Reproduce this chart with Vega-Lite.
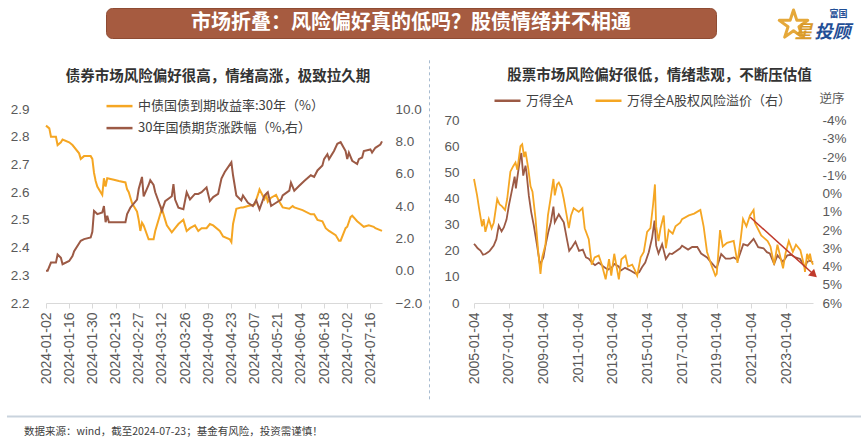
{
  "$schema": "https://vega.github.io/schema/vega-lite/v6.json",
  "background": "#ffffff",
  "padding": {"left": 5, "right": 5, "top": 7, "bottom": 5},
  "config": {
    "view": {"stroke": null},
    "font": "Liberation Sans",
    "axis": {"grid": false, "domain": false, "ticks": false, "labelFont": "Liberation Sans", "labelColor": "#595959", "labelFontSize": 13.5, "labelOverlap": false},
    "legend": {"symbolType": "stroke", "symbolStrokeWidth": 2.5, "symbolSize": 676, "labelFont": "Noto Sans CJK SC", "labelFontSize": 13, "labelColor": "#404040", "labelLimit": 330, "padding": 0, "labelOffset": 4},
    "title": {"font": "Noto Sans CJK SC", "fontWeight": "bold", "color": "#333333", "fontSize": 14.5, "anchor": "middle"}
  },
  "datasets": {
    "yield": [
      {"date": "2024-01-02", "v": 2.84}, {"date": "2024-01-04", "v": 2.83}, {"date": "2024-01-05", "v": 2.80}, {"date": "2024-01-08", "v": 2.80},
      {"date": "2024-01-09", "v": 2.77}, {"date": "2024-01-11", "v": 2.78}, {"date": "2024-01-12", "v": 2.79}, {"date": "2024-01-16", "v": 2.78},
      {"date": "2024-01-18", "v": 2.77}, {"date": "2024-01-22", "v": 2.74}, {"date": "2024-01-23", "v": 2.72}, {"date": "2024-01-25", "v": 2.73},
      {"date": "2024-01-29", "v": 2.73}, {"date": "2024-01-30", "v": 2.72}, {"date": "2024-01-31", "v": 2.67}, {"date": "2024-02-01", "v": 2.64},
      {"date": "2024-02-02", "v": 2.62}, {"date": "2024-02-05", "v": 2.59}, {"date": "2024-02-06", "v": 2.65}, {"date": "2024-02-07", "v": 2.62},
      {"date": "2024-02-08", "v": 2.65}, {"date": "2024-02-12", "v": 2.645}, {"date": "2024-02-15", "v": 2.64}, {"date": "2024-02-19", "v": 2.635},
      {"date": "2024-02-20", "v": 2.61}, {"date": "2024-02-21", "v": 2.60}, {"date": "2024-02-23", "v": 2.56}, {"date": "2024-02-26", "v": 2.53},
      {"date": "2024-02-27", "v": 2.50}, {"date": "2024-02-28", "v": 2.46}, {"date": "2024-02-29", "v": 2.49}, {"date": "2024-03-01", "v": 2.48},
      {"date": "2024-03-04", "v": 2.43}, {"date": "2024-03-07", "v": 2.43}, {"date": "2024-03-08", "v": 2.46}, {"date": "2024-03-11", "v": 2.52},
      {"date": "2024-03-12", "v": 2.54}, {"date": "2024-03-14", "v": 2.50}, {"date": "2024-03-15", "v": 2.48}, {"date": "2024-03-18", "v": 2.455},
      {"date": "2024-03-20", "v": 2.47}, {"date": "2024-03-22", "v": 2.485}, {"date": "2024-03-25", "v": 2.50}, {"date": "2024-03-27", "v": 2.46},
      {"date": "2024-03-29", "v": 2.47}, {"date": "2024-04-01", "v": 2.48}, {"date": "2024-04-03", "v": 2.46}, {"date": "2024-04-05", "v": 2.47},
      {"date": "2024-04-08", "v": 2.47}, {"date": "2024-04-10", "v": 2.485}, {"date": "2024-04-12", "v": 2.48}, {"date": "2024-04-16", "v": 2.46},
      {"date": "2024-04-18", "v": 2.44}, {"date": "2024-04-22", "v": 2.43}, {"date": "2024-04-23", "v": 2.42}, {"date": "2024-04-24", "v": 2.485},
      {"date": "2024-04-26", "v": 2.54}, {"date": "2024-04-29", "v": 2.545}, {"date": "2024-04-30", "v": 2.545}, {"date": "2024-05-03", "v": 2.55},
      {"date": "2024-05-07", "v": 2.555}, {"date": "2024-05-09", "v": 2.59}, {"date": "2024-05-10", "v": 2.61}, {"date": "2024-05-13", "v": 2.575},
      {"date": "2024-05-14", "v": 2.59}, {"date": "2024-05-15", "v": 2.565}, {"date": "2024-05-17", "v": 2.58}, {"date": "2024-05-20", "v": 2.59},
      {"date": "2024-05-22", "v": 2.565}, {"date": "2024-05-24", "v": 2.545}, {"date": "2024-05-28", "v": 2.54}, {"date": "2024-05-30", "v": 2.55},
      {"date": "2024-05-31", "v": 2.545}, {"date": "2024-06-05", "v": 2.535}, {"date": "2024-06-10", "v": 2.52}, {"date": "2024-06-12", "v": 2.52},
      {"date": "2024-06-14", "v": 2.50}, {"date": "2024-06-17", "v": 2.495}, {"date": "2024-06-19", "v": 2.47}, {"date": "2024-06-21", "v": 2.46},
      {"date": "2024-06-25", "v": 2.445}, {"date": "2024-06-27", "v": 2.425}, {"date": "2024-06-28", "v": 2.425}, {"date": "2024-07-01", "v": 2.47},
      {"date": "2024-07-02", "v": 2.475}, {"date": "2024-07-04", "v": 2.51}, {"date": "2024-07-05", "v": 2.515}, {"date": "2024-07-08", "v": 2.495},
      {"date": "2024-07-10", "v": 2.485}, {"date": "2024-07-12", "v": 2.475}, {"date": "2024-07-15", "v": 2.48}, {"date": "2024-07-18", "v": 2.475},
      {"date": "2024-07-19", "v": 2.47}, {"date": "2024-07-23", "v": 2.46}
    ],
    "futures": [
      {"date": "2024-01-02", "v": 0.0}, {"date": "2024-01-03", "v": 0.0}, {"date": "2024-01-05", "v": 0.5}, {"date": "2024-01-08", "v": 0.5},
      {"date": "2024-01-09", "v": 1.0}, {"date": "2024-01-11", "v": 0.8}, {"date": "2024-01-12", "v": 0.4}, {"date": "2024-01-16", "v": 0.6},
      {"date": "2024-01-18", "v": 0.9}, {"date": "2024-01-19", "v": 1.2}, {"date": "2024-01-23", "v": 1.85}, {"date": "2024-01-25", "v": 1.95},
      {"date": "2024-01-29", "v": 2.05}, {"date": "2024-01-30", "v": 2.4}, {"date": "2024-01-31", "v": 3.7}, {"date": "2024-02-02", "v": 3.5},
      {"date": "2024-02-05", "v": 3.6}, {"date": "2024-02-06", "v": 4.0}, {"date": "2024-02-07", "v": 3.0}, {"date": "2024-02-08", "v": 3.4},
      {"date": "2024-02-09", "v": 3.0}, {"date": "2024-02-14", "v": 3.0}, {"date": "2024-02-19", "v": 3.0}, {"date": "2024-02-20", "v": 3.5},
      {"date": "2024-02-22", "v": 3.9}, {"date": "2024-02-26", "v": 4.4}, {"date": "2024-02-27", "v": 5.05}, {"date": "2024-02-29", "v": 5.8},
      {"date": "2024-03-01", "v": 4.6}, {"date": "2024-03-04", "v": 5.3}, {"date": "2024-03-05", "v": 5.6}, {"date": "2024-03-07", "v": 5.3},
      {"date": "2024-03-08", "v": 4.85}, {"date": "2024-03-11", "v": 4.0}, {"date": "2024-03-12", "v": 3.7}, {"date": "2024-03-14", "v": 4.3},
      {"date": "2024-03-18", "v": 4.6}, {"date": "2024-03-19", "v": 5.35}, {"date": "2024-03-20", "v": 4.4}, {"date": "2024-03-22", "v": 3.9},
      {"date": "2024-03-25", "v": 3.8}, {"date": "2024-03-27", "v": 4.85}, {"date": "2024-03-29", "v": 4.4}, {"date": "2024-04-01", "v": 4.75},
      {"date": "2024-04-03", "v": 4.75}, {"date": "2024-04-05", "v": 4.85}, {"date": "2024-04-08", "v": 5.15}, {"date": "2024-04-10", "v": 4.3},
      {"date": "2024-04-12", "v": 4.55}, {"date": "2024-04-15", "v": 4.75}, {"date": "2024-04-17", "v": 5.7}, {"date": "2024-04-19", "v": 6.1},
      {"date": "2024-04-23", "v": 6.7}, {"date": "2024-04-24", "v": 5.9}, {"date": "2024-04-26", "v": 4.65}, {"date": "2024-04-29", "v": 4.35},
      {"date": "2024-04-30", "v": 4.65}, {"date": "2024-05-03", "v": 4.2}, {"date": "2024-05-06", "v": 4.0}, {"date": "2024-05-08", "v": 4.35},
      {"date": "2024-05-10", "v": 3.8}, {"date": "2024-05-13", "v": 4.65}, {"date": "2024-05-15", "v": 4.85}, {"date": "2024-05-17", "v": 4.0},
      {"date": "2024-05-20", "v": 4.2}, {"date": "2024-05-23", "v": 4.4}, {"date": "2024-05-24", "v": 4.65}, {"date": "2024-05-28", "v": 4.95},
      {"date": "2024-05-29", "v": 5.45}, {"date": "2024-05-31", "v": 4.95}, {"date": "2024-06-03", "v": 5.25}, {"date": "2024-06-06", "v": 5.55},
      {"date": "2024-06-10", "v": 5.9}, {"date": "2024-06-12", "v": 5.8}, {"date": "2024-06-14", "v": 6.2}, {"date": "2024-06-17", "v": 6.5},
      {"date": "2024-06-18", "v": 6.9}, {"date": "2024-06-20", "v": 7.2}, {"date": "2024-06-21", "v": 6.9}, {"date": "2024-06-24", "v": 7.4},
      {"date": "2024-06-26", "v": 7.85}, {"date": "2024-06-28", "v": 7.95}, {"date": "2024-07-01", "v": 7.4}, {"date": "2024-07-02", "v": 6.9},
      {"date": "2024-07-03", "v": 7.3}, {"date": "2024-07-05", "v": 6.8}, {"date": "2024-07-08", "v": 6.6}, {"date": "2024-07-09", "v": 6.9},
      {"date": "2024-07-11", "v": 7.0}, {"date": "2024-07-12", "v": 7.4}, {"date": "2024-07-16", "v": 7.5}, {"date": "2024-07-17", "v": 7.3},
      {"date": "2024-07-19", "v": 7.6}, {"date": "2024-07-22", "v": 7.8}, {"date": "2024-07-23", "v": 8.0}
    ],
    "pe": [
      {"date": "2005-01-04", "v": 22.7}, {"date": "2005-02-07", "v": 22.0}, {"date": "2005-03-22", "v": 21.0}, {"date": "2005-05-20", "v": 20.1},
      {"date": "2005-07-12", "v": 18.5}, {"date": "2005-09-01", "v": 18.8}, {"date": "2005-10-25", "v": 19.5}, {"date": "2005-12-01", "v": 20.0},
      {"date": "2006-02-24", "v": 22.0}, {"date": "2006-04-20", "v": 24.5}, {"date": "2006-06-09", "v": 29.7}, {"date": "2006-08-08", "v": 27.5},
      {"date": "2006-09-25", "v": 29.0}, {"date": "2006-11-20", "v": 32.0}, {"date": "2007-01-08", "v": 37.4}, {"date": "2007-03-19", "v": 43.7},
      {"date": "2007-05-10", "v": 48.5}, {"date": "2007-06-05", "v": 44.0}, {"date": "2007-07-02", "v": 47.6}, {"date": "2007-09-10", "v": 56.6},
      {"date": "2007-09-28", "v": 57.5}, {"date": "2007-11-07", "v": 48.9}, {"date": "2007-12-25", "v": 52.7}, {"date": "2008-01-15", "v": 50.0},
      {"date": "2008-03-04", "v": 41.2}, {"date": "2008-04-22", "v": 35.0}, {"date": "2008-06-17", "v": 29.7}, {"date": "2008-08-25", "v": 22.0},
      {"date": "2008-10-28", "v": 14.3}, {"date": "2008-11-17", "v": 15.5}, {"date": "2009-01-05", "v": 17.5}, {"date": "2009-02-17", "v": 22.0},
      {"date": "2009-04-15", "v": 27.0}, {"date": "2009-06-10", "v": 31.0}, {"date": "2009-08-04", "v": 37.0}, {"date": "2009-09-01", "v": 31.0},
      {"date": "2009-11-25", "v": 34.0}, {"date": "2010-01-15", "v": 32.5}, {"date": "2010-03-10", "v": 31.0}, {"date": "2010-05-20", "v": 24.0},
      {"date": "2010-07-02", "v": 20.0}, {"date": "2010-09-01", "v": 21.5}, {"date": "2010-11-10", "v": 23.5}, {"date": "2011-01-25", "v": 20.0},
      {"date": "2011-04-15", "v": 20.5}, {"date": "2011-06-20", "v": 17.5}, {"date": "2011-08-18", "v": 17.0}, {"date": "2011-10-20", "v": 15.6},
      {"date": "2011-12-28", "v": 14.5}, {"date": "2012-03-15", "v": 15.5}, {"date": "2012-06-20", "v": 14.0}, {"date": "2012-09-25", "v": 12.8},
      {"date": "2012-12-20", "v": 13.7}, {"date": "2013-02-05", "v": 15.0}, {"date": "2013-05-10", "v": 14.0}, {"date": "2013-06-25", "v": 12.5},
      {"date": "2013-09-20", "v": 13.5}, {"date": "2013-12-05", "v": 12.8}, {"date": "2014-01-20", "v": 12.4}, {"date": "2014-04-28", "v": 11.3},
      {"date": "2014-07-15", "v": 11.8}, {"date": "2014-09-12", "v": 13.7}, {"date": "2014-11-20", "v": 15.5}, {"date": "2015-02-02", "v": 19.5},
      {"date": "2015-04-13", "v": 25.0}, {"date": "2015-06-03", "v": 31.6}, {"date": "2015-07-08", "v": 22.0}, {"date": "2015-08-26", "v": 19.0},
      {"date": "2015-11-10", "v": 22.6}, {"date": "2016-01-28", "v": 16.9}, {"date": "2016-04-15", "v": 19.0}, {"date": "2016-06-06", "v": 18.8},
      {"date": "2016-11-25", "v": 21.0}, {"date": "2017-01-03", "v": 22.0}, {"date": "2017-05-10", "v": 20.5}, {"date": "2017-08-04", "v": 21.5},
      {"date": "2017-11-20", "v": 21.5}, {"date": "2018-02-09", "v": 19.0}, {"date": "2018-06-13", "v": 17.5}, {"date": "2018-08-20", "v": 16.0},
      {"date": "2018-12-07", "v": 13.7}, {"date": "2019-01-03", "v": 13.5}, {"date": "2019-04-08", "v": 18.8}, {"date": "2019-07-10", "v": 17.0},
      {"date": "2019-10-15", "v": 17.0}, {"date": "2019-12-27", "v": 17.5}, {"date": "2020-03-23", "v": 16.5}, {"date": "2020-07-16", "v": 22.6},
      {"date": "2020-10-15", "v": 22.0}, {"date": "2021-02-18", "v": 24.6}, {"date": "2021-05-26", "v": 21.4}, {"date": "2021-09-15", "v": 21.0},
      {"date": "2021-11-25", "v": 19.5}, {"date": "2022-01-25", "v": 19.0}, {"date": "2022-04-26", "v": 15.0}, {"date": "2022-07-05", "v": 18.3},
      {"date": "2022-10-31", "v": 15.8}, {"date": "2023-01-30", "v": 18.3}, {"date": "2023-04-20", "v": 18.5}, {"date": "2023-07-20", "v": 17.5},
      {"date": "2023-10-26", "v": 16.9}, {"date": "2024-02-05", "v": 13.7}, {"date": "2024-03-20", "v": 15.8}, {"date": "2024-05-20", "v": 16.3},
      {"date": "2024-07-23", "v": 15.5}
    ],
    "erp": [
      {"date": "2005-01-04", "v": -0.8}, {"date": "2005-03-10", "v": 0.1}, {"date": "2005-04-20", "v": 0.8}, {"date": "2005-06-23", "v": 1.8},
      {"date": "2005-07-25", "v": 1.4}, {"date": "2005-09-01", "v": 2.1}, {"date": "2005-11-11", "v": 1.4}, {"date": "2006-01-10", "v": 1.9},
      {"date": "2006-02-24", "v": 1.6}, {"date": "2006-05-08", "v": 0.3}, {"date": "2006-06-28", "v": 0.6}, {"date": "2006-08-18", "v": 0.7},
      {"date": "2006-10-20", "v": 0.9}, {"date": "2006-12-04", "v": 0.3}, {"date": "2007-02-09", "v": -1.2}, {"date": "2007-04-10", "v": -1.5},
      {"date": "2007-05-28", "v": -1.7}, {"date": "2007-07-05", "v": -1.3}, {"date": "2007-09-10", "v": -2.6}, {"date": "2007-10-16", "v": -2.7},
      {"date": "2007-11-27", "v": -2.0}, {"date": "2007-12-25", "v": -2.3}, {"date": "2008-02-20", "v": -1.4}, {"date": "2008-04-09", "v": -0.4},
      {"date": "2008-05-20", "v": -0.1}, {"date": "2008-07-24", "v": 1.4}, {"date": "2008-09-18", "v": 3.2}, {"date": "2008-11-04", "v": 4.4},
      {"date": "2008-12-10", "v": 3.5}, {"date": "2009-02-17", "v": 2.8}, {"date": "2009-04-10", "v": 1.2}, {"date": "2009-06-03", "v": 0.3},
      {"date": "2009-08-04", "v": -0.8}, {"date": "2009-09-01", "v": 0.1}, {"date": "2009-10-20", "v": -0.5}, {"date": "2009-11-25", "v": -0.6},
      {"date": "2010-01-20", "v": -0.3}, {"date": "2010-03-10", "v": 0.3}, {"date": "2010-05-10", "v": 1.2}, {"date": "2010-06-25", "v": 1.9},
      {"date": "2010-08-10", "v": 1.2}, {"date": "2010-10-05", "v": 0.8}, {"date": "2010-11-25", "v": 0.9}, {"date": "2011-01-19", "v": 1.0},
      {"date": "2011-04-08", "v": 0.8}, {"date": "2011-05-25", "v": 1.9}, {"date": "2011-08-18", "v": 2.5}, {"date": "2011-10-20", "v": 3.9},
      {"date": "2011-12-20", "v": 3.5}, {"date": "2012-03-15", "v": 3.4}, {"date": "2012-05-20", "v": 3.9}, {"date": "2012-08-08", "v": 4.7},
      {"date": "2012-10-18", "v": 3.6}, {"date": "2012-12-04", "v": 4.5}, {"date": "2013-02-05", "v": 3.3}, {"date": "2013-05-13", "v": 4.7},
      {"date": "2013-07-05", "v": 3.6}, {"date": "2013-09-30", "v": 3.4}, {"date": "2013-11-20", "v": 4.0}, {"date": "2014-02-18", "v": 3.9},
      {"date": "2014-04-15", "v": 4.2}, {"date": "2014-06-03", "v": 4.5}, {"date": "2014-08-15", "v": 3.5}, {"date": "2014-10-20", "v": 3.2},
      {"date": "2014-12-29", "v": 2.1}, {"date": "2015-03-09", "v": 1.9}, {"date": "2015-05-04", "v": 0.6}, {"date": "2015-06-12", "v": -0.5},
      {"date": "2015-07-08", "v": 1.8}, {"date": "2015-08-26", "v": 2.6}, {"date": "2015-10-08", "v": 1.9}, {"date": "2015-12-14", "v": 1.2},
      {"date": "2016-01-28", "v": 3.0}, {"date": "2016-03-28", "v": 2.0}, {"date": "2016-06-20", "v": 2.2}, {"date": "2016-08-18", "v": 1.8},
      {"date": "2016-11-25", "v": 1.6}, {"date": "2017-01-03", "v": 1.4}, {"date": "2017-05-26", "v": 1.2}, {"date": "2017-09-15", "v": 1.1},
      {"date": "2017-12-20", "v": 0.95}, {"date": "2018-01-24", "v": 0.9}, {"date": "2018-04-02", "v": 1.8}, {"date": "2018-06-13", "v": 3.2},
      {"date": "2018-09-10", "v": 3.9}, {"date": "2018-12-06", "v": 4.5}, {"date": "2019-01-04", "v": 4.4}, {"date": "2019-03-14", "v": 2.0},
      {"date": "2019-05-10", "v": 2.9}, {"date": "2019-08-08", "v": 2.7}, {"date": "2019-12-27", "v": 2.6}, {"date": "2020-03-16", "v": 3.8},
      {"date": "2020-05-26", "v": 2.4}, {"date": "2020-07-10", "v": 1.4}, {"date": "2020-09-20", "v": 1.8}, {"date": "2020-12-04", "v": 1.2},
      {"date": "2021-02-18", "v": 0.9}, {"date": "2021-03-16", "v": 1.6}, {"date": "2021-07-28", "v": 2.3}, {"date": "2021-09-13", "v": 2.4},
      {"date": "2021-12-10", "v": 2.6}, {"date": "2022-02-08", "v": 2.9}, {"date": "2022-04-26", "v": 3.9}, {"date": "2022-07-05", "v": 2.8},
      {"date": "2022-10-31", "v": 4.1}, {"date": "2022-12-20", "v": 3.3}, {"date": "2023-03-01", "v": 2.6}, {"date": "2023-05-25", "v": 3.2},
      {"date": "2023-07-31", "v": 2.8}, {"date": "2023-10-31", "v": 3.1}, {"date": "2024-01-22", "v": 4.0}, {"date": "2024-02-05", "v": 4.3},
      {"date": "2024-03-20", "v": 3.3}, {"date": "2024-04-22", "v": 3.6}, {"date": "2024-05-20", "v": 3.3}, {"date": "2024-06-20", "v": 3.7},
      {"date": "2024-07-23", "v": 3.9}
    ],
    "arrow": [{"d1": "2020-12-10", "e1": 1.3, "d2": "2024-07-23", "e2": 4.4}],
    "arrowhead": [{"d": "2024-07-23", "e": 4.4}]
  },
  "spacing": 13,
  "vconcat": [
    {
      "spacing": 0,
      "hconcat": [
        {"width": 59, "height": 30, "data": {"values": []}, "mark": "point"},
        {
          "width": 610, "height": 30,
          "view": {"fill": "#A65B40", "stroke": "#8E4B33", "strokeWidth": 1, "cornerRadius": 6},
          "data": {"values": [{"t": "市场折叠：风险偏好真的低吗？股债情绪并不相通"}]},
          "mark": {"type": "text", "font": "Noto Sans CJK SC", "fontWeight": "bold", "fontSize": 20, "color": "#ffffff", "baseline": "middle", "align": "center"},
          "encoding": {"text": {"field": "t"}}
        },
        {"width": 60, "height": 30, "data": {"values": []}, "mark": "point"},
        {
          "width": 77, "height": 38,
          "layer": [
            {"data": {"values": [{"t": "star"}]}, "mark": {"type": "point", "shape": "M0,-1L0.2245,-0.309L0.951,-0.309L0.363,0.118L0.588,0.809L0,0.382L-0.588,0.809L-0.363,0.118L-0.951,-0.309L-0.2245,-0.309Z", "size": 900, "filled": false, "stroke": "#E5A83A", "strokeWidth": 3, "strokeJoin": "round", "opacity": 1, "xOffset": -23, "yOffset": -2}, "encoding": {}},
            {"data": {"values": [{"t": "富国"}]}, "mark": {"type": "text", "font": "Noto Sans CJK SC", "fontWeight": "bold", "fontSize": 9, "color": "#1F4E96", "dx": 22, "dy": -13, "baseline": "middle", "align": "center"}, "encoding": {"text": {"field": "t"}}},
            {"data": {"values": [{"t": "星"}]}, "mark": {"type": "text", "font": "Noto Sans CJK SC", "fontWeight": "bold", "fontStyle": "italic", "fontSize": 18, "color": "#D99A2B", "dx": -13, "dy": 6, "baseline": "middle", "align": "center"}, "encoding": {"text": {"field": "t"}}},
            {"data": {"values": [{"t": "投顾"}]}, "mark": {"type": "text", "font": "Noto Sans CJK SC", "fontWeight": "bold", "fontStyle": "italic", "fontSize": 18, "color": "#1F4E96", "dx": 16, "dy": 6, "baseline": "middle", "align": "center"}, "encoding": {"text": {"field": "t"}}}
          ]
        }
      ]
    },
    {
      "spacing": 7,
      "resolve": {"scale": {"color": "independent"}, "legend": {"color": "independent"}},
      "hconcat": [
        {
          "width": 336, "height": 194,
          "title": {"text": "债券市场风险偏好很高，情绪高涨，极致拉久期", "frame": "group", "offset": 7.5, "dx": 4},
          "layer": [
            {
              "data": {"name": "yield"},
              "mark": {"type": "line", "strokeWidth": 2},
              "encoding": {
                "x": {"field": "date", "type": "temporal", "title": null,
                  "scale": {"type": "utc", "domain": [{"year": 2024, "month": 1, "date": 2, "utc": true}, {"year": 2024, "month": 7, "date": 23, "utc": true}]},
                  "axis": {"values": [
                    {"year": 2024, "month": 1, "date": 2, "utc": true}, {"year": 2024, "month": 1, "date": 16, "utc": true}, {"year": 2024, "month": 1, "date": 30, "utc": true},
                    {"year": 2024, "month": 2, "date": 13, "utc": true}, {"year": 2024, "month": 2, "date": 27, "utc": true}, {"year": 2024, "month": 3, "date": 12, "utc": true},
                    {"year": 2024, "month": 3, "date": 26, "utc": true}, {"year": 2024, "month": 4, "date": 9, "utc": true}, {"year": 2024, "month": 4, "date": 23, "utc": true},
                    {"year": 2024, "month": 5, "date": 7, "utc": true}, {"year": 2024, "month": 5, "date": 21, "utc": true}, {"year": 2024, "month": 6, "date": 4, "utc": true},
                    {"year": 2024, "month": 6, "date": 18, "utc": true}, {"year": 2024, "month": 7, "date": 2, "utc": true}, {"year": 2024, "month": 7, "date": 16, "utc": true}],
                    "format": "%Y-%m-%d", "labelAngle": -90, "labelFontSize": 14, "labelPadding": 4, "labelFlush": false, "labelOverlap": false, "labelBound": false,
                    "domain": true, "domainColor": "#D9D9D9", "ticks": true, "tickColor": "#D9D9D9", "tickSize": 5}},
                "y": {"field": "v", "type": "quantitative", "title": null,
                  "scale": {"domain": [2.2, 2.9], "nice": false, "zero": false},
                  "axis": {"orient": "left", "values": [2.2, 2.3, 2.4, 2.5, 2.6, 2.7, 2.8, 2.9], "format": ".1f", "labelPadding": 17, "minExtent": 38}},
                "color": {"datum": "中债国债到期收益率:30年（%）", "type": "nominal",
                  "scale": {"domain": ["中债国债到期收益率:30年（%）", "30年国债期货涨跌幅（%,右）"], "range": ["#F5A623", "#9C5A45"]},
                  "legend": {"orient": "none", "legendX": 59, "legendY": -17.4, "direction": "vertical", "rowPadding": -1, "title": null}}
              }
            },
            {
              "data": {"name": "futures"},
              "mark": {"type": "line", "strokeWidth": 2},
              "encoding": {
                "x": {"field": "date", "type": "temporal", "title": null,
                  "scale": {"type": "utc", "domain": [{"year": 2024, "month": 1, "date": 2, "utc": true}, {"year": 2024, "month": 7, "date": 23, "utc": true}]},
                  "axis": {"values": [
                    {"year": 2024, "month": 1, "date": 2, "utc": true}, {"year": 2024, "month": 1, "date": 16, "utc": true}, {"year": 2024, "month": 1, "date": 30, "utc": true},
                    {"year": 2024, "month": 2, "date": 13, "utc": true}, {"year": 2024, "month": 2, "date": 27, "utc": true}, {"year": 2024, "month": 3, "date": 12, "utc": true},
                    {"year": 2024, "month": 3, "date": 26, "utc": true}, {"year": 2024, "month": 4, "date": 9, "utc": true}, {"year": 2024, "month": 4, "date": 23, "utc": true},
                    {"year": 2024, "month": 5, "date": 7, "utc": true}, {"year": 2024, "month": 5, "date": 21, "utc": true}, {"year": 2024, "month": 6, "date": 4, "utc": true},
                    {"year": 2024, "month": 6, "date": 18, "utc": true}, {"year": 2024, "month": 7, "date": 2, "utc": true}, {"year": 2024, "month": 7, "date": 16, "utc": true}],
                    "format": "%Y-%m-%d", "labelAngle": -90, "labelFontSize": 14, "labelPadding": 4, "labelFlush": false, "labelOverlap": false, "labelBound": false,
                    "domain": true, "domainColor": "#D9D9D9", "ticks": true, "tickColor": "#D9D9D9", "tickSize": 5}},
                "y": {"field": "v", "type": "quantitative", "title": null,
                  "scale": {"domain": [-2, 10], "nice": false, "zero": false},
                  "axis": {"orient": "right", "values": [-2, 0, 2, 4, 6, 8, 10], "format": ".1f", "labelPadding": 13}},
                "color": {"datum": "30年国债期货涨跌幅（%,右）", "type": "nominal",
                  "scale": {"domain": ["中债国债到期收益率:30年（%）", "30年国债期货涨跌幅（%,右）"], "range": ["#F5A623", "#9C5A45"]},
                  "legend": {"orient": "none", "legendX": 59, "legendY": -17.4, "direction": "vertical", "rowPadding": -1, "title": null}}
              }
            }
          ],
          "resolve": {"scale": {"y": "independent"}}
        },
        {
          "width": 1, "height": 194,
          "data": {"values": [{}]},
          "mark": {"type": "rule", "color": "#A7BBD0", "strokeDash": [3, 3], "strokeWidth": 1},
          "encoding": {
            "y": {"datum": 1.251, "type": "quantitative", "scale": {"domain": [0, 1], "nice": false, "zero": false}, "axis": null},
            "y2": {"datum": -0.507}
          }
        },
        {
          "width": 339, "height": 194,
          "title": {"text": "股票市场风险偏好很低，情绪悲观，不断压估值", "frame": "group", "offset": 2.9, "dx": 16},
          "layer": [
            {
              "data": {"name": "pe"},
              "mark": {"type": "line", "strokeWidth": 1.8},
              "encoding": {
                "x": {"field": "date", "type": "temporal", "title": null,
                  "scale": {"type": "utc", "domain": [{"year": 2005, "month": 1, "date": 4, "utc": true}, {"year": 2024, "month": 7, "date": 23, "utc": true}]},
                  "axis": {"values": [
                    {"year": 2005, "month": 1, "date": 4, "utc": true}, {"year": 2007, "month": 1, "date": 4, "utc": true}, {"year": 2009, "month": 1, "date": 4, "utc": true},
                    {"year": 2011, "month": 1, "date": 4, "utc": true}, {"year": 2013, "month": 1, "date": 4, "utc": true}, {"year": 2015, "month": 1, "date": 4, "utc": true},
                    {"year": 2017, "month": 1, "date": 4, "utc": true}, {"year": 2019, "month": 1, "date": 4, "utc": true}, {"year": 2021, "month": 1, "date": 4, "utc": true},
                    {"year": 2023, "month": 1, "date": 4, "utc": true}],
                    "format": "%Y-%m-%d", "labelAngle": -90, "labelFontSize": 14, "labelPadding": 4, "labelFlush": false, "labelOverlap": false, "labelBound": false,
                    "domain": true, "domainColor": "#D9D9D9", "ticks": true, "tickColor": "#D9D9D9", "tickSize": 5}},
                "y": {"field": "v", "type": "quantitative", "title": null,
                  "scale": {"domain": [0, 74.45], "nice": false},
                  "axis": {"orient": "left", "values": [0, 10, 20, 30, 40, 50, 60, 70], "format": "d", "labelPadding": 15, "minExtent": 37}},
                "color": {"datum": "万得全A", "type": "nominal",
                  "scale": {"domain": ["万得全A", "万得全A股权风险溢价（右）"], "range": ["#9C5A45", "#F5A623"]},
                  "legend": {"orient": "none", "legendX": 19, "legendY": -23, "direction": "horizontal", "columnPadding": 17, "title": null}}
              }
            },
            {
              "layer": [
                {
                  "data": {"name": "erp"},
                  "mark": {"type": "line", "strokeWidth": 1.8},
                  "encoding": {
                    "x": {"field": "date", "type": "temporal", "title": null,
                      "scale": {"type": "utc", "domain": [{"year": 2005, "month": 1, "date": 4, "utc": true}, {"year": 2024, "month": 7, "date": 23, "utc": true}]},
                      "axis": {"values": [
                        {"year": 2005, "month": 1, "date": 4, "utc": true}, {"year": 2007, "month": 1, "date": 4, "utc": true}, {"year": 2009, "month": 1, "date": 4, "utc": true},
                        {"year": 2011, "month": 1, "date": 4, "utc": true}, {"year": 2013, "month": 1, "date": 4, "utc": true}, {"year": 2015, "month": 1, "date": 4, "utc": true},
                        {"year": 2017, "month": 1, "date": 4, "utc": true}, {"year": 2019, "month": 1, "date": 4, "utc": true}, {"year": 2021, "month": 1, "date": 4, "utc": true},
                        {"year": 2023, "month": 1, "date": 4, "utc": true}],
                        "format": "%Y-%m-%d", "labelAngle": -90, "labelFontSize": 14, "labelPadding": 4, "labelFlush": false, "labelOverlap": false, "labelBound": false,
                        "domain": true, "domainColor": "#D9D9D9", "ticks": true, "tickColor": "#D9D9D9", "tickSize": 5}},
                    "y": {"field": "v", "type": "quantitative",
                      "scale": {"domain": [-4.636, 6], "reverse": true, "nice": false, "zero": false},
                      "axis": {"orient": "right", "values": [-4, -3, -2, -1, 0, 1, 2, 3, 4, 5, 6], "labelExpr": "datum.value + '%'", "labelPadding": 9,
                        "title": "逆序", "titleAngle": 0, "titleX": 6, "titleY": -10.4, "titleAlign": "left", "titleBaseline": "middle",
                        "titleFont": "Noto Sans CJK SC", "titleFontSize": 12.5, "titleFontWeight": "normal", "titleColor": "#595959"}},
                    "color": {"datum": "万得全A股权风险溢价（右）", "type": "nominal",
                      "scale": {"domain": ["万得全A", "万得全A股权风险溢价（右）"], "range": ["#9C5A45", "#F5A623"]},
                      "legend": {"orient": "none", "legendX": 19, "legendY": -23, "direction": "horizontal", "columnPadding": 17, "title": null}}
                  }
                },
                {
                  "data": {"name": "arrow"},
                  "mark": {"type": "rule", "color": "#C0392B", "strokeWidth": 1.5},
                  "encoding": {
                    "x": {"field": "d1", "type": "temporal", "title": null,
                      "scale": {"type": "utc", "domain": [{"year": 2005, "month": 1, "date": 4, "utc": true}, {"year": 2024, "month": 7, "date": 23, "utc": true}]},
                      "axis": {"values": [
                        {"year": 2005, "month": 1, "date": 4, "utc": true}, {"year": 2007, "month": 1, "date": 4, "utc": true}, {"year": 2009, "month": 1, "date": 4, "utc": true},
                        {"year": 2011, "month": 1, "date": 4, "utc": true}, {"year": 2013, "month": 1, "date": 4, "utc": true}, {"year": 2015, "month": 1, "date": 4, "utc": true},
                        {"year": 2017, "month": 1, "date": 4, "utc": true}, {"year": 2019, "month": 1, "date": 4, "utc": true}, {"year": 2021, "month": 1, "date": 4, "utc": true},
                        {"year": 2023, "month": 1, "date": 4, "utc": true}],
                        "format": "%Y-%m-%d", "labelAngle": -90, "labelFontSize": 14, "labelPadding": 4, "labelFlush": false, "labelOverlap": false, "labelBound": false,
                        "domain": true, "domainColor": "#D9D9D9", "ticks": true, "tickColor": "#D9D9D9", "tickSize": 5}},
                    "x2": {"field": "d2"},
                    "y": {"field": "e1", "type": "quantitative",
                      "scale": {"domain": [-4.636, 6], "reverse": true, "nice": false, "zero": false},
                      "axis": {"orient": "right", "values": [-4, -3, -2, -1, 0, 1, 2, 3, 4, 5, 6], "labelExpr": "datum.value + '%'", "labelPadding": 9,
                        "title": "逆序", "titleAngle": 0, "titleX": 6, "titleY": -10.4, "titleAlign": "left", "titleBaseline": "middle",
                        "titleFont": "Noto Sans CJK SC", "titleFontSize": 12.5, "titleFontWeight": "normal", "titleColor": "#595959"}},
                    "y2": {"field": "e2"}
                  }
                },
                {
                  "data": {"name": "arrowhead"},
                  "mark": {"type": "point", "shape": "triangle", "angle": 132, "size": 80, "filled": true, "color": "#C0392B", "opacity": 1},
                  "encoding": {
                    "x": {"field": "d", "type": "temporal", "title": null,
                      "scale": {"type": "utc", "domain": [{"year": 2005, "month": 1, "date": 4, "utc": true}, {"year": 2024, "month": 7, "date": 23, "utc": true}]},
                      "axis": {"values": [
                        {"year": 2005, "month": 1, "date": 4, "utc": true}, {"year": 2007, "month": 1, "date": 4, "utc": true}, {"year": 2009, "month": 1, "date": 4, "utc": true},
                        {"year": 2011, "month": 1, "date": 4, "utc": true}, {"year": 2013, "month": 1, "date": 4, "utc": true}, {"year": 2015, "month": 1, "date": 4, "utc": true},
                        {"year": 2017, "month": 1, "date": 4, "utc": true}, {"year": 2019, "month": 1, "date": 4, "utc": true}, {"year": 2021, "month": 1, "date": 4, "utc": true},
                        {"year": 2023, "month": 1, "date": 4, "utc": true}],
                        "format": "%Y-%m-%d", "labelAngle": -90, "labelFontSize": 14, "labelPadding": 4, "labelFlush": false, "labelOverlap": false, "labelBound": false,
                        "domain": true, "domainColor": "#D9D9D9", "ticks": true, "tickColor": "#D9D9D9", "tickSize": 5}},
                    "y": {"field": "e", "type": "quantitative",
                      "scale": {"domain": [-4.636, 6], "reverse": true, "nice": false, "zero": false},
                      "axis": {"orient": "right", "values": [-4, -3, -2, -1, 0, 1, 2, 3, 4, 5, 6], "labelExpr": "datum.value + '%'", "labelPadding": 9,
                        "title": "逆序", "titleAngle": 0, "titleX": 6, "titleY": -10.4, "titleAlign": "left", "titleBaseline": "middle",
                        "titleFont": "Noto Sans CJK SC", "titleFontSize": 12.5, "titleFontWeight": "normal", "titleColor": "#595959"}}
                  }
                }
              ]
            }
          ],
          "resolve": {"scale": {"y": "independent"}}
        }
      ]
    },
    {
      "width": 815, "height": 1,
      "data": {"values": [{}]},
      "mark": {"type": "rule", "color": "#C9D3DD", "strokeWidth": 2},
      "encoding": {
        "x": {"datum": -0.0479, "type": "quantitative", "scale": {"domain": [0, 1], "nice": false, "zero": false}, "axis": null},
        "x2": {"datum": 1.0}
      },
      "title": {"text": "数据来源：wind，截至2024-07-23；基金有风险，投资需谨慎！", "frame": "group", "orient": "bottom", "anchor": "start", "fontSize": 10.5, "fontWeight": "normal", "color": "#404040", "offset": 9, "dx": -22}
    }
  ]
}
